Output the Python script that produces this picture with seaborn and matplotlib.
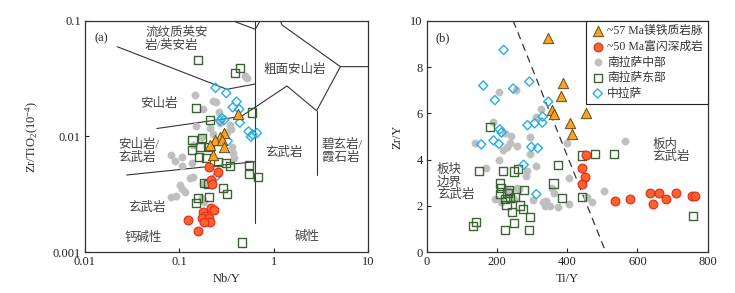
import numpy as np
import pandas as pd
import matplotlib
matplotlib.use("Agg")
import matplotlib.pyplot as plt
import seaborn as sns
from matplotlib.ticker import FixedLocator, FixedFormatter, NullLocator

sns.set_theme(style="ticks")
plt.rcParams['font.family'] = ['Liberation Serif', 'Noto Sans CJK SC', 'DejaVu Sans']
plt.rcParams['mathtext.fontset'] = 'custom'
plt.rcParams['mathtext.rm'] = 'Liberation Serif'
plt.rcParams['mathtext.it'] = 'Liberation Serif:italic'

# ---------------- data: panel (a) Nb/Y vs Zr/TiO2 ----------------
a_tri_nb = [0.414, 0.299, 0.271, 0.240, 0.283, 0.299, 0.230, 0.212]
a_tri_zr = [0.01555, 0.01078, 0.00996, 0.00933, 0.00933, 0.00806, 0.00692, 0.00844]

a_red_nb = [0.207, 0.255, 0.216, 0.223, 0.218, 0.180, 0.234, 0.188, 0.173, 0.204, 0.209, 0.183, 0.125, 0.156]
a_red_zr = [0.00548, 0.00489, 0.00421, 0.00389, 0.00240, 0.00224, 0.00230, 0.00206, 0.00197, 0.00198,
            0.00182, 0.00183, 0.00190, 0.00154]

a_grey_nb = [0.521, 0.493, 0.145, 0.230, 0.246, 0.180, 0.263, 0.151, 0.212, 0.271, 0.346, 0.352, 0.173,
             0.230, 0.319, 0.139, 0.0808, 0.107, 0.0892, 0.108, 0.137, 0.375, 0.382, 0.102, 0.130, 0.141,
             0.179, 0.106, 0.0808, 0.0925, 0.173, 0.183, 0.115, 0.364]
a_grey_zr = [0.0320, 0.0330, 0.0226, 0.0203, 0.0200, 0.0174, 0.0162, 0.01225, 0.01177, 0.0130, 0.01257,
             0.0116, 0.00996, 0.01041, 0.0110, 0.00844, 0.00692, 0.00665, 0.00614, 0.00551, 0.00587,
             0.00716, 0.00648, 0.00385, 0.00434, 0.0045, 0.00389, 0.0035, 0.00302, 0.00308, 0.00293,
             0.00274, 0.00334, 0.00816]

a_green_nb = [0.157, 0.385, 0.439, 0.151, 0.212, 0.593, 0.173, 0.138, 0.166, 0.209, 0.136, 0.160, 0.193,
              0.258, 0.314, 0.346, 0.547, 0.542, 0.681, 0.183, 0.202, 0.290, 0.322, 0.157, 0.206, 0.151,
              0.464]
a_green_zr = [0.0458, 0.0356, 0.0393, 0.0177, 0.0139, 0.0161, 0.00965, 0.00933, 0.00816, 0.00816,
              0.00764, 0.00661, 0.00648, 0.00602, 0.00594, 0.00559, 0.00567, 0.00475, 0.00444, 0.00399,
              0.00389, 0.00357, 0.00317, 0.00293, 0.00302, 0.00265, 0.001215]

a_blue_nb = [0.242, 0.314, 0.404, 0.368, 0.431, 0.283, 0.271, 0.299, 0.437, 0.542, 0.597, 0.665, 0.574,
             0.326, 0.250]
a_blue_zr = [0.02634, 0.02375, 0.01998, 0.01787, 0.01717, 0.01436, 0.01369, 0.01389, 0.01316, 0.01105,
             0.01041, 0.01072, 0.00996, 0.00914, 0.00456]

# classification boundaries (Nb/Y, Zr/TiO2)
bnd_rhyo_x = [0.0220, 0.3193, 0.638]
bnd_rhyo_y = [0.0596, 0.02556, 0.02841]
bnd_vert_x = [0.638, 0.638]
bnd_vert_y = [0.1, 0.00178]
bnd_top_x = [0.366, 0.638, 0.7205]
bnd_top_y = [0.1, 0.0843, 0.1]
bnd_trachy_x = [1.175, 1.225, 5.094, 10.0]
bnd_trachy_y = [0.1, 0.0918, 0.0401, 0.0401]
bnd_and_x = [0.0577, 0.4529, 1.384, 2.854, 5.094]
bnd_and_y = [0.01172, 0.01489, 0.02729, 0.01669, 0.0401]
bnd_bas_vert_x = [2.854, 2.854]
bnd_bas_vert_y = [0.01669, 0.00465]
bnd_low_x = [0.0277, 0.638]
bnd_low_y = [0.00465, 0.00606]

# ---------------- data: panel (b) Ti/Y vs Zr/Y ----------------
b_tri_ti = [346, 389, 382, 356, 363, 452, 408, 414]
b_tri_zr = [9.27, 7.29, 6.74, 6.14, 5.96, 6.03, 5.6, 5.1]

b_red_ti = [452, 443, 450, 443, 536, 580, 637, 661, 645, 681, 710, 755, 765]
b_red_zr = [4.21, 3.64, 3.25, 2.94, 2.22, 2.31, 2.55, 2.55, 2.09, 2.31, 2.55, 2.45, 2.44]

b_grey_ti = [206, 253, 324, 310, 190, 223, 241, 294, 138, 237, 256, 228, 398, 564, 216, 294, 207, 169,
             286, 311, 284, 405, 256, 356, 363, 194, 211, 249, 303, 332, 339, 337, 351, 373, 406, 455,
             471, 504, 230, 262]
b_grey_zr = [6.94, 7.0, 6.2, 5.86, 5.64, 5.13, 5.0, 4.99, 4.74, 4.74, 4.6, 4.55, 4.71, 4.81, 4.43, 4.26,
             4.0, 3.64, 3.49, 3.71, 3.28, 3.2, 2.77, 2.77, 2.55, 2.29, 2.16, 2.29, 2.24, 2.19, 2.22, 2.02,
             1.98, 1.95, 2.09, 2.38, 2.16, 2.66, 2.7, 2.72]

b_green_ti = [180, 442, 479, 532, 374, 149, 216, 248, 260, 361, 209, 211, 235, 278, 223, 237, 252, 227,
              266, 244, 273, 294, 140, 131, 248, 223, 292, 385, 442, 759, 210, 230]
b_green_zr = [5.41, 4.18, 4.23, 4.26, 3.77, 3.51, 3.51, 3.49, 3.58, 2.97, 2.97, 2.76, 2.67, 2.70, 2.29,
              2.34, 2.38, 2.03, 2.02, 1.73, 1.86, 1.52, 1.30, 1.13, 1.26, 0.97, 0.95, 2.34, 2.37, 1.56,
              2.50, 2.55]

b_blue_ti = [219, 161, 246, 292, 194, 346, 330, 287, 307, 329, 208, 213, 190, 155, 205, 298, 316, 276, 312]
b_blue_zr = [8.74, 7.2, 7.07, 7.37, 6.57, 6.5, 5.86, 5.49, 5.57, 5.6, 5.31, 5.17, 4.83, 4.66, 4.68,
             4.55, 4.5, 3.78, 2.51]

b_div_ti = [246, 510]
b_div_zr = [10, 0]

labels = ["~57 Ma镁铁质岩脉", "~50 Ma富闪深成岩", "南拉萨中部", "南拉萨东部", "中拉萨"]

# ---------------- styles ----------------
STY = {
    "grey": dict(marker="o", s=28, color="#bfbfbf", edgecolor="#bfbfbf", linewidth=0.3),
    "green": dict(marker="s", s=34, facecolor="none", edgecolor="#3b6433", linewidth=1.0),
    "blue": dict(marker="D", s=22, facecolor="none", edgecolor="#27aee6", linewidth=1.0),
    "red": dict(marker="o", s=40, color="#f7652b", edgecolor="#e8261b", linewidth=0.8),
    "tri": dict(marker="^", s=55, color="#f2a52a", edgecolor="#6e4a12", linewidth=0.7),
}


def draw(ax, x, y, key, label):
    df = pd.DataFrame({"x": x, "y": y})
    sns.scatterplot(data=df, x="x", y="y", ax=ax, label=label, legend=False, zorder=3, **STY[key])


fig = plt.figure(figsize=(7.35, 2.93), dpi=100)
axa = fig.add_axes([0.1156, 0.1389, 0.3851, 0.7905])
axb = fig.add_axes([0.5806, 0.1389, 0.3823, 0.7905])

# ---------- panel (a) ----------
ax = axa
line_kw = dict(color="#333333", lw=0.8, zorder=1)
for bx, by in [(bnd_rhyo_x, bnd_rhyo_y), (bnd_vert_x, bnd_vert_y), (bnd_top_x, bnd_top_y),
               (bnd_trachy_x, bnd_trachy_y), (bnd_and_x, bnd_and_y),
               (bnd_bas_vert_x, bnd_bas_vert_y), (bnd_low_x, bnd_low_y)]:
    ax.plot(bx, by, **line_kw)

draw(ax, a_grey_nb, a_grey_zr, "grey", labels[2])
draw(ax, a_green_nb, a_green_zr, "green", labels[3])
draw(ax, a_blue_nb, a_blue_zr, "blue", labels[4])
draw(ax, a_red_nb, a_red_zr, "red", labels[1])
draw(ax, a_tri_nb, a_tri_zr, "tri", labels[0])

ax.set_xscale("log")
ax.set_yscale("log")
ax.set_xlim(0.01, 10)
ax.set_ylim(0.001, 0.1)
ax.xaxis.set_major_locator(FixedLocator([0.01, 0.1, 1, 10]))
ax.xaxis.set_major_formatter(FixedFormatter(["0.01", "0.1", "1", "10"]))
ax.yaxis.set_major_locator(FixedLocator([0.001, 0.01, 0.1]))
ax.yaxis.set_major_formatter(FixedFormatter(["0.001", "0.01", "0.1"]))
ax.xaxis.set_minor_locator(NullLocator())
ax.yaxis.set_minor_locator(NullLocator())
ax.set_xlabel("Nb/Y", fontsize=9, labelpad=3)
ax.set_ylabel("Zr/TiO$_2$(10$^{-4}$)", fontsize=9, labelpad=8)

tk = dict(fontsize=9, color="#444444", fontweight="light")
T = ax.transAxes
ax.text(0.059, 0.925, "(a)", transform=T, ha="center", va="center", fontsize=9)
ax.text(0.212, 0.919, "流纹质英安\n岩/英安岩", transform=T, ha="left", va="center", linespacing=1.1, **tk)
ax.text(0.629, 0.787, "粗面安山岩", transform=T, ha="left", va="center", **tk)
ax.text(0.194, 0.640, "安山岩", transform=T, ha="left", va="center", **tk)
ax.text(0.117, 0.434, "安山岩/\n玄武岩", transform=T, ha="left", va="center", linespacing=1.1, **tk)
ax.text(0.636, 0.427, "玄武岩", transform=T, ha="left", va="center", **tk)
ax.text(0.836, 0.437, "碧玄岩/\n霞石岩", transform=T, ha="left", va="center", linespacing=1.1, **tk)
ax.text(0.152, 0.190, "玄武岩", transform=T, ha="left", va="center", **tk)
ax.text(0.141, 0.060, "钙碱性", transform=T, ha="left", va="center", **tk)
ax.text(0.742, 0.067, "碱性", transform=T, ha="left", va="center", **tk)

# ---------- panel (b) ----------
ax = axb
ax.plot(b_div_ti, b_div_zr, color="#333333", lw=0.9, ls=(0, (6, 4)), zorder=1)
draw(ax, b_grey_ti, b_grey_zr, "grey", labels[2])
draw(ax, b_green_ti, b_green_zr, "green", labels[3])
draw(ax, b_blue_ti, b_blue_zr, "blue", labels[4])
draw(ax, b_red_ti, b_red_zr, "red", labels[1])
draw(ax, b_tri_ti, b_tri_zr, "tri", labels[0])

ax.set_xlim(0, 800)
ax.set_ylim(0, 10)
ax.set_xticks([0, 200, 400, 600, 800])
ax.set_yticks([0, 2, 4, 6, 8, 10])
ax.set_xlabel("Ti/Y", fontsize=9, labelpad=3)
ax.set_ylabel("Zr/Y", fontsize=9, labelpad=5)
T = ax.transAxes
ax.text(0.056, 0.924, "(b)", transform=T, ha="center", va="center", fontsize=9)
ax.text(0.036, 0.303, "板块\n边界\n玄武岩", transform=T, ha="left", va="center", linespacing=1.05, **tk)
ax.text(0.804, 0.437, "板内\n玄武岩", transform=T, ha="left", va="center", linespacing=1.05, **tk)

handles, labs = ax.get_legend_handles_labels()
order = [labs.index(l) for l in labels]
leg = ax.legend([handles[i] for i in order], [labs[i] for i in order], loc="upper right",
                fontsize=8.5, frameon=True, fancybox=False, framealpha=1, edgecolor="#222222",
                borderaxespad=0, handletextpad=0.2, labelspacing=0.3, borderpad=0.4,
                handlelength=1.2)
leg.get_frame().set_linewidth(0.8)
for t in leg.get_texts():
    t.set_color("#333333")

for ax in (axa, axb):
    ax.tick_params(direction="in", length=3, width=0.8, labelsize=9, colors="#222222", pad=3)
    for sp in ax.spines.values():
        sp.set_visible(True)
        sp.set_linewidth(0.9)
        sp.set_color("#333333")

fig.savefig("out.png", dpi=100, facecolor="white")
